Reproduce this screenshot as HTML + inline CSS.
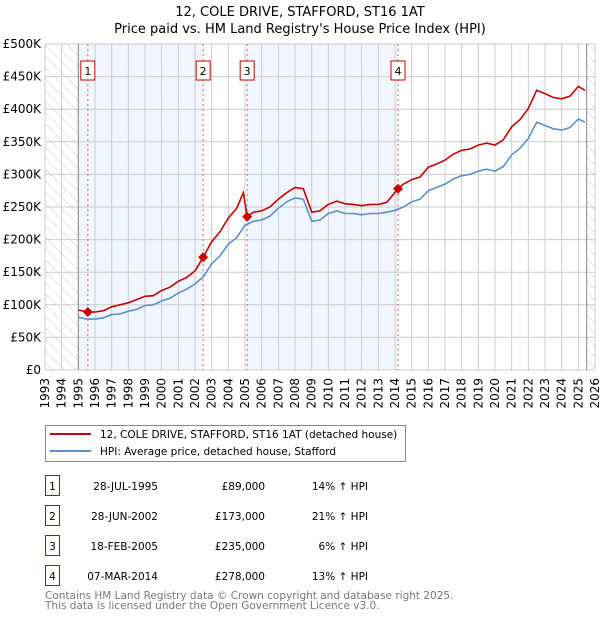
<!DOCTYPE html>
<html><head><meta charset="utf-8">
<style>
body{margin:0;background:#fff;font-family:"DejaVu Sans","Liberation Sans",sans-serif;}
svg text{font-family:"DejaVu Sans","Liberation Sans",sans-serif;}
</style></head>
<body>
<svg id="c" width="600" height="620" xmlns="http://www.w3.org/2000/svg">
<defs>
<pattern id="hatch" width="8" height="8" patternUnits="userSpaceOnUse" patternTransform="rotate(-45)">
<line x1="0" y1="0" x2="0" y2="8" stroke="#ccc" stroke-width="1"/>
</pattern>
</defs>
<text x="300" y="16" text-anchor="middle" font-size="13" fill="#000">12, COLE DRIVE, STAFFORD, ST16 1AT</text>
<text x="300" y="33" text-anchor="middle" font-size="13" fill="#000">Price paid vs. HM Land Registry's House Price Index (HPI)</text>
<g id="plot"></g>
<g>
<rect x="45.5" y="425.5" width="360" height="36" fill="#fff" stroke="#888"/>
<line x1="50" y1="434" x2="91" y2="434" stroke="#cc0000" stroke-width="2"/>
<text x="100" y="438" font-size="10.5">12, COLE DRIVE, STAFFORD, ST16 1AT (detached house)</text>
<line x1="50" y1="451" x2="91" y2="451" stroke="#5b8fd0" stroke-width="2"/>
<text x="100" y="455" font-size="10.5">HPI: Average price, detached house, Stafford</text>
</g>
<g id="table"></g>
<text x="45" y="599" font-size="10.5" fill="#777">Contains HM Land Registry data © Crown copyright and database right 2025.</text>
<text x="45" y="609" font-size="10.5" fill="#777">This data is licensed under the Open Government Licence v3.0.</text>
</svg>
<script>
const hpiYears=[1995,1995.5,1996,1996.5,1997,1997.5,1998,1998.5,1999,1999.5,2000,2000.5,2001,2001.5,2002,2002.5,2003,2003.5,2004,2004.5,2005,2005.5,2006,2006.5,2007,2007.5,2008,2008.5,2009,2009.5,2010,2010.5,2011,2011.5,2012,2012.5,2013,2013.5,2014,2014.5,2015,2015.5,2016,2016.5,2017,2017.5,2018,2018.5,2019,2019.5,2020,2020.5,2021,2021.5,2022,2022.5,2023,2023.5,2024,2024.5,2025,2025.4];
const hpiValues=[81,78,78,80,85,86,90,93,99,100,106,110,118,124,132,143,163,175,193,203,222,228,230,236,248,258,264,262,228,230,240,244,240,240,238,240,240,242,245,250,258,262,275,280,285,293,298,300,305,308,305,312,330,340,355,380,375,370,368,372,385,380];
const propYears=[1995,1995.57,1996,1996.5,1997,1997.5,1998,1998.5,1999,1999.5,2000,2000.5,2001,2001.5,2002,2002.49,2003,2003.5,2004,2004.5,2004.9,2005.13,2005.5,2006,2006.5,2007,2007.5,2008,2008.5,2009,2009.5,2010,2010.5,2011,2011.5,2012,2012.5,2013,2013.5,2014.18,2014.5,2015,2015.5,2016,2016.5,2017,2017.5,2018,2018.5,2019,2019.5,2020,2020.5,2021,2021.5,2022,2022.5,2023,2023.5,2024,2024.5,2025,2025.4];
const propValues=[92,89,89,91,97,100,103,108,113,114,122,127,136,142,152,173,197,212,233,248,272,235,242,244,250,262,272,280,278,242,244,254,259,255,254,252,254,254,257,278,285,292,296,311,316,322,331,337,339,345,348,345,353,373,384,401,429,424,418,416,420,435,429];
const saleLabels=["1","2","3","4"];
const saleYears=[1995.57,2002.49,2005.13,2014.18];
const salePrices=[89,173,235,278];
const saleDates=["28-JUL-1995","28-JUN-2002","18-FEB-2005","07-MAR-2014"];
const salePriceText=["£89,000","£173,000","£235,000","£278,000"];
const saleHpiText=["14% ↑ HPI","21% ↑ HPI","6% ↑ HPI","13% ↑ HPI"];
const yTicks=[0,50,100,150,200,250,300,350,400,450,500];
const yTickLabels=["£0","£50K","£100K","£150K","£200K","£250K","£300K","£350K","£400K","£450K","£500K"];
const xTicks=[1993,1994,1995,1996,1997,1998,1999,2000,2001,2002,2003,2004,2005,2006,2007,2008,2009,2010,2011,2012,2013,2014,2015,2016,2017,2018,2019,2020,2021,2022,2023,2024,2025,2026];

const X0=45,X1=595,Y0=370,Y1=44;
const x=v=>X0+(v-1993)/(2026-1993)*(X1-X0);
const y=v=>Y0-v/500*(Y0-Y1);
const NS="http://www.w3.org/2000/svg";
const plot=document.getElementById('plot');
function mk(tag,attrs,parent){const e=document.createElementNS(NS,tag);for(const k in attrs)e.setAttribute(k,attrs[k]);(parent||plot).appendChild(e);return e;}

let r=mk('rect',{x:x(1995),y:Y1,width:x(saleYears[1])-x(1995),height:Y0-Y1,fill:'#eef3fc',opacity:0.8});


r=mk('rect',{x:x(saleYears[2]),y:Y1,width:x(saleYears[3])-x(saleYears[2]),height:Y0-Y1,fill:'#eef3fc',opacity:0.8});


r=mk('rect',{x:X0,y:Y1,width:x(1995)-X0,height:Y0-Y1,fill:'url(#hatch)'});


r=mk('rect',{x:x(2025.5),y:Y1,width:X1-x(2025.5),height:Y0-Y1,fill:'url(#hatch)'});



yTicks.forEach((t,i)=>{
  const l=mk('line',{x1:X0,x2:X1,y1:y(t),y2:y(t),stroke:'#ccc','stroke-width':1});
  
  
  const tx=mk('text',{x:X0-4,y:y(t)+4,'text-anchor':'end','font-size':12,fill:'#000'});
  tx.textContent=yTickLabels[i];
  
  
});
xTicks.forEach(t=>{
  const l=mk('line',{x1:x(t),x2:x(t),y1:Y1,y2:Y0,stroke:'#ccc','stroke-width':1});
  
  
  const tx=mk('text',{x:0,y:0,'text-anchor':'end','font-size':12,fill:'#000',transform:`translate(${x(t)+4},378) rotate(-90)`});
  tx.textContent=t;
  
  
});
let b=mk('line',{x1:x(1995),x2:x(1995),y1:Y1,y2:Y0,stroke:'#888'});


b=mk('line',{x1:x(2025.5),x2:x(2025.5),y1:Y1,y2:Y0,stroke:'#888'});



saleYears.forEach((s,i)=>{
  const l=mk('line',{x1:x(s),x2:x(s),y1:Y1,y2:Y0,stroke:'#e06060','stroke-width':1,'stroke-dasharray':'2,3'});
  
  
  const bx=mk('rect',{x:x(s)-7,y:61,width:14,height:19,fill:'#fff',stroke:'#cc0000'});
  
  
  const tx=mk('text',{x:x(s),y:75,'text-anchor':'middle','font-size':11});
  tx.textContent=saleLabels[i];
  
  
});

const hp=mk('path',{d:hpiYears.map((v,i)=>(i?'L':'M')+x(v).toFixed(1)+','+y(hpiValues[i]).toFixed(1)).join(''),fill:'none',stroke:'#5b8fd0','stroke-width':1.6});


const pp=mk('path',{d:propYears.map((v,i)=>(i?'L':'M')+x(v).toFixed(1)+','+y(propValues[i]).toFixed(1)).join(''),fill:'none',stroke:'#cc0000','stroke-width':1.6});


saleYears.forEach((s,i)=>{
  const px=x(s),py=y(salePrices[i]);
  const d=mk('path',{d:`M${px},${py-5}L${px+5},${py}L${px},${py+5}L${px-5},${py}Z`,fill:'#cc0000'});
  
  
});

const tb=document.getElementById('table');
const rowY=[486,516,546,576];
saleLabels.forEach((lab,i)=>{
  const ry=rowY[i];
  const bx=mk('rect',{x:45.5,y:ry-10.5,width:14,height:20,fill:'#fff',stroke:'#cc0000'},tb);
  
  
  const n=mk('text',{x:52.5,y:ry+4,'text-anchor':'middle','font-size':10.5},tb);
  n.textContent=lab;
  
  
  const d=mk('text',{x:158,y:ry+4,'text-anchor':'end','font-size':10.5},tb);
  d.textContent=saleDates[i];
  
  
  const p=mk('text',{x:265,y:ry+4,'text-anchor':'end','font-size':10.5},tb);
  p.textContent=salePriceText[i];
  
  
  const h=mk('text',{x:368,y:ry+4,'text-anchor':'end','font-size':10.5},tb);
  h.textContent=saleHpiText[i];
  
  
});
</script>
</body></html>
